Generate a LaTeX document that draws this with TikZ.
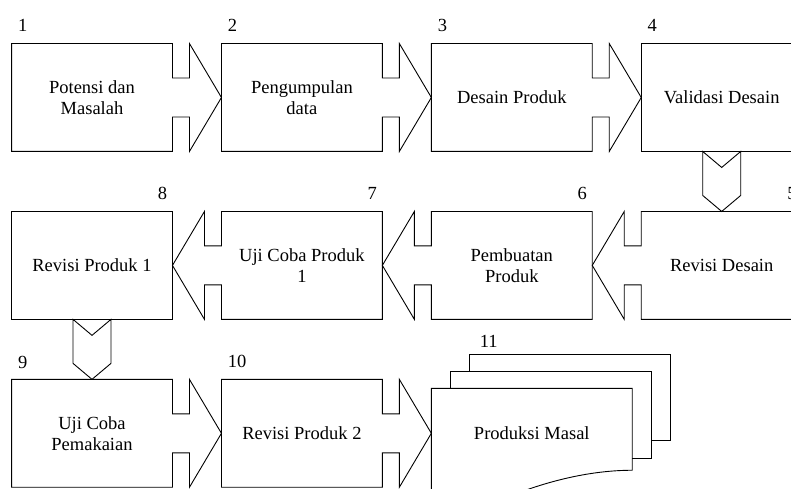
\documentclass[tikz,border=0pt]{standalone}
\usepackage{fontspec}
\setmainfont{Liberation Serif}
\usetikzlibrary{positioning, calc}

\newcommand{\notchw}{17}
\newcommand{\notchh}{19.5}
\newcommand{\shaftw}{19}
\newcommand{\chevd}{16}

\tikzset{
  stepbox/.style={minimum width=160pt, minimum height=107pt, inner sep=0pt, align=center},
  docbox/.style={minimum width=200pt, minimum height=89pt, inner sep=0pt, align=center},
  steplbl/.style={inner sep=0pt},
  % block arrow leaving the east side of #1 towards #2
  rarr/.style 2 args={insert path={
    -- ($(#1.east)+(0,\notchh)$) -- ++(\notchw,0) -- ($(#1.north east)+(\notchw,0)$)
    -- (#2.west) -- ($(#1.south east)+(\notchw,0)$) -- ($(#1.east)+(\notchw,-\notchh)$)
    -- ($(#1.east)+(0,-\notchh)$)}},
  % block arrow leaving the west side of #1 towards #2
  larr/.style 2 args={insert path={
    -- ($(#1.west)+(0,-\notchh)$) -- ++(-\notchw,0) -- ($(#1.south west)+(-\notchw,0)$)
    -- (#2.east) -- ($(#1.north west)+(-\notchw,0)$) -- ($(#1.west)+(-\notchw,\notchh)$)
    -- ($(#1.west)+(0,\notchh)$)}},
}

\begin{document}
\begin{tikzpicture}[x=1pt, y=1pt, line width=0.9pt, font=\fontsize{18.5}{21}\selectfont]
  \useasboundingbox (0,0) rectangle (791,-489);
  \clip (0,0) rectangle (791,-489);

  % row 1
  \node[stepbox] (b1) at (92,-97.5) {Potensi dan\\Masalah};
  \node[stepbox, right=49pt of b1] (b2) {Pengumpulan\\data};
  \node[stepbox, right=49pt of b2] (b3) {Desain Produk};
  \node[stepbox, right=49pt of b3] (b4) {Validasi Desain};
  % row 2
  \node[stepbox, below=60pt of b4] (b5) {Revisi Desain};
  \node[stepbox, left=49pt of b5] (b6) {Pembuatan\\Produk};
  \node[stepbox, left=49pt of b6] (b7) {Uji Coba Produk\\1};
  \node[stepbox, left=49pt of b7] (b8) {Revisi Produk 1};
  % row 3
  \node[stepbox, below=60pt of b8] (b9) {Uji Coba\\Pemakaian};
  \node[stepbox, right=49pt of b9] (b10) {Revisi Produk 2};
  \node[docbox, right=49pt of b10] (d11) {Produksi Masal};

  % numbers
  \node[steplbl, anchor=base west] at ($(b1.north west)+(6,12)$) {1};
  \node[steplbl, anchor=base west] at ($(b2.north west)+(6,12)$) {2};
  \node[steplbl, anchor=base west] at ($(b3.north west)+(6,12)$) {3};
  \node[steplbl, anchor=base west] at ($(b4.north west)+(6,12)$) {4};
  \node[steplbl, anchor=base east] at ($(b5.north east)+(-5,12)$) {5};
  \node[steplbl, anchor=base east] at ($(b6.north east)+(-5,12)$) {6};
  \node[steplbl, anchor=base east] at ($(b7.north east)+(-5,12)$) {7};
  \node[steplbl, anchor=base east] at ($(b8.north east)+(-5,12)$) {8};
  \node[steplbl, anchor=base west] at ($(b9.north west)+(6,11)$) {9};
  \node[steplbl, anchor=base west] at ($(b10.north west)+(6,12)$) {10};
  \node[steplbl, anchor=base west] at ($(d11.north west)+(48,41)$) {11};

  % boxes with their block arrows
  \draw (b1.north west) -- (b1.north east) [rarr={b1}{b2}] -- (b1.south east) -- (b1.south west) -- cycle;
  \draw (b2.north west) -- (b2.north east) [rarr={b2}{b3}] -- (b2.south east) -- (b2.south west) -- cycle;
  \draw (b3.north west) -- (b3.north east) [rarr={b3}{b4}] -- (b3.south east) -- (b3.south west) -- cycle;
  \draw (b4.north west) rectangle (b4.south east);
  \draw (b5.north west) -- (b5.north east) -- (b5.south east) -- (b5.south west) [larr={b5}{b6}] -- cycle;
  \draw (b6.north west) -- (b6.north east) -- (b6.south east) -- (b6.south west) [larr={b6}{b7}] -- cycle;
  \draw (b7.north west) -- (b7.north east) -- (b7.south east) -- (b7.south west) [larr={b7}{b8}] -- cycle;
  \draw (b8.north west) rectangle (b8.south east);
  \draw (b9.north west) -- (b9.north east) [rarr={b9}{b10}] -- (b9.south east) -- (b9.south west) -- cycle;
  \draw (b10.north west) -- (b10.north east) [rarr={b10}{d11}] -- (b10.south east) -- (b10.south west) -- cycle;

  % down arrows
  \draw ($(b4.south)+(-\shaftw,0)$) -- ($(b5.north)+(-\shaftw,\chevd)$) -- (b5.north)
    -- ($(b5.north)+(\shaftw,\chevd)$) -- ($(b4.south)+(\shaftw,0)$) -- ($(b4.south)+(0,-\chevd)$) -- cycle;
  \draw ($(b8.south)+(-\shaftw,0)$) -- ($(b9.north)+(-\shaftw,\chevd)$) -- (b9.north)
    -- ($(b9.north)+(\shaftw,\chevd)$) -- ($(b8.south)+(\shaftw,0)$) -- ($(b8.south)+(0,-\chevd)$) -- cycle;

  % document stack
  \draw ($(d11.north west)+(38,17)$) -- ++(0,17) -| ($(d11.south east)+(38,38)$) -- ($(d11.south east)+(19,38)$);
  \draw ($(d11.north west)+(19,0)$) -- ++(0,17) -| ($(d11.south east)+(19,20)$) -- ($(d11.south east)+(0,20)$);
  \draw (d11.north west) -- (d11.north east) -- ($(d11.south east)+(0,8)$)
    .. controls ($(d11.south east)+(-40,8)$) and ($(d11.south east)+(-85,-2)$) .. ($(d11.south east)+(-130,-21)$)
    .. controls ($(d11.south east)+(-150,-30)$) and ($(d11.south west)+(30,-25)$) .. ($(d11.south west)+(0,-20)$)
    -- cycle;
\end{tikzpicture}
\end{document}
